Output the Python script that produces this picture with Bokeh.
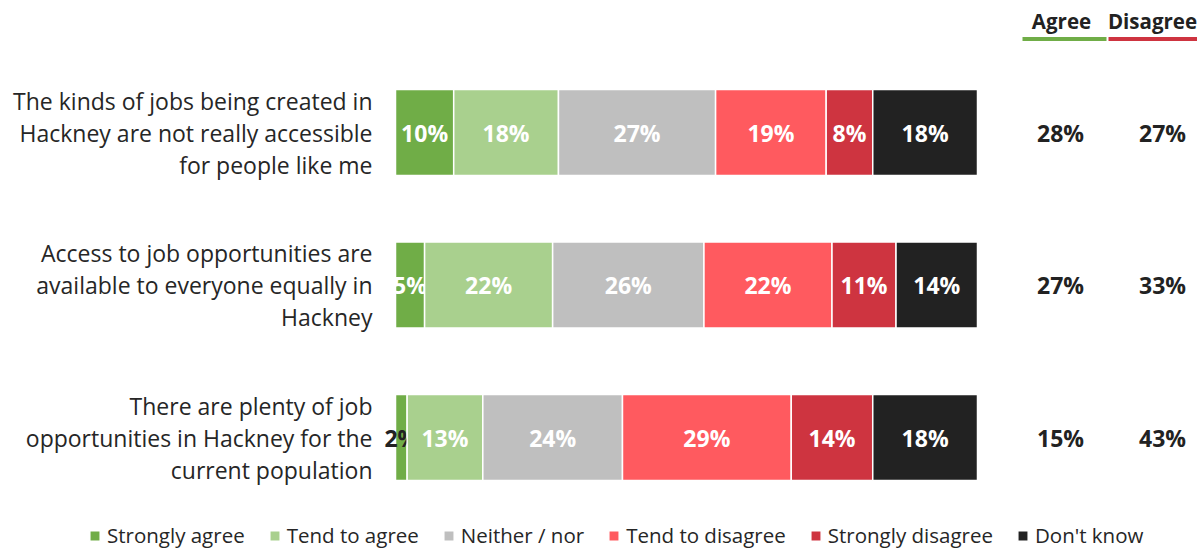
from bokeh.plotting import figure
from bokeh.models import ColumnDataSource, Range1d, Legend, LegendItem
from bokeh.embed import file_html
from bokeh.resources import INLINE
from bokeh.core.properties import value

# ---- data ----
statements = [
    "The kinds of jobs being created in\nHackney are not really accessible\nfor people like me",
    "Access to job opportunities are\navailable to everyone equally in\nHackney",
    "There are plenty of job\nopportunities in Hackney for the\ncurrent population",
]
series = ["Strongly agree", "Tend to agree", "Neither / nor",
          "Tend to disagree", "Strongly disagree", "Don't know"]
strongly_agree = [10, 5, 2]
tend_to_agree = [18, 22, 13]
neither_nor = [27, 26, 24]
tend_to_disagree = [19, 22, 29]
strongly_disagree = [8, 11, 14]
dont_know = [18, 14, 18]
values = [strongly_agree, tend_to_agree, neither_nor,
          tend_to_disagree, strongly_disagree, dont_know]
colors = ["#70AD47", "#A9D08E", "#BFBFBF", "#FF5A5F", "#CE3440", "#222222"]
agree = [a + b for a, b in zip(strongly_agree, tend_to_agree)]
disagree = [a + b for a, b in zip(tend_to_disagree, strongly_disagree)]

# ---- layout ----
W, H = 1197, 549
BAR_L, BAR_R = 395, 977
k = (BAR_R - BAR_L) / 100.0
x0 = -BAR_L / k
ROW0, ROWSTEP = 132, 152.5
y_top = -ROW0 / ROWSTEP
y_bot = y_top + H / ROWSTEP


def px(x):
    return x0 + x / k


def py(y):
    return y_top + y / ROWSTEP


FONT_NAME = "Open Sans"
FONT = value(FONT_NAME)
DARK = "#222222"
TEXT = "#262626"

p = figure(width=W, height=H, x_range=Range1d(x0, x0 + W / k),
           y_range=Range1d(y_bot, y_top), output_backend="svg",
           toolbar_location=None, x_axis_location=None, y_axis_location=None,
           min_border=0)
p.grid.visible = False
p.outline_line_color = None

rows = list(range(len(statements)))
left = [0] * len(rows)
items = []
for name, vals, col in zip(series, values, colors):
    right = [l + v for l, v in zip(left, vals)]
    src = ColumnDataSource(dict(
        y=rows, left=left, right=right,
        mid=[(l + r) / 2 for l, r in zip(left, right)],
        lab=[f"{v}%" for v in vals],
        tc=[DARK if v < 4 else "white" for v in vals],
    ))
    r = p.hbar(y="y", left="left", right="right", height=0.565, source=src,
               fill_color=col, line_color="white", line_width=1.5)
    p.text(x="mid", y="y", text="lab", text_color="tc", source=src,
           text_font=FONT, text_font_size="23px", text_font_style="bold",
           text_align="center", text_baseline="middle")
    items.append(LegendItem(label=name, renderers=[r]))
    left = right

# statement labels
p.text(x=[px(372)] * len(rows), y=rows, text=statements, text_color=TEXT,
       text_font=FONT, text_font_size="23px", text_align="right",
       text_baseline="middle", text_line_height=1.0)

# agree / disagree totals
p.text(x=[px(1060)] * len(rows), y=rows, text=[f"{v}%" for v in agree],
       text_color=DARK, text_font=FONT, text_font_size="23px",
       text_font_style="bold", text_align="center", text_baseline="middle")
p.text(x=[px(1162)] * len(rows), y=rows, text=[f"{v}%" for v in disagree],
       text_color=DARK, text_font=FONT, text_font_size="23px",
       text_font_style="bold", text_align="center", text_baseline="middle")

# headers
p.text(x=[px(1061), px(1152)], y=[py(20), py(20)], text=["Agree", "Disagree"],
       text_color=DARK, text_font=FONT, text_font_size="20.5px",
       text_font_style="bold", text_align="center", text_baseline="middle")
p.segment(x0=[px(1022), px(1108)], x1=[px(1106), px(1197)],
          y0=[py(38.5)] * 2, y1=[py(38.5)] * 2,
          line_color=[colors[0], colors[4]], line_width=4)

legend = Legend(items=items, orientation="horizontal", location=(88, 0),
                glyph_width=13, glyph_height=13, label_standoff=6, spacing=23,
                label_text_font=FONT_NAME, label_text_font_size="20.5px",
                label_text_color=TEXT, label_height=22, padding=2, margin=0,
                background_fill_alpha=0, border_line_color=None)
p.add_layout(legend)

open("out.html", "w").write(file_html(p, INLINE))
